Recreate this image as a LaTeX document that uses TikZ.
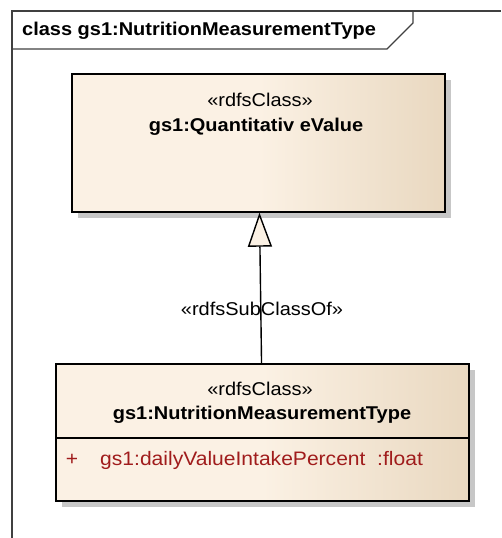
\documentclass[tikz,border=0pt]{standalone}
\usepackage{fontspec}
\setmainfont{Liberation Sans}[FakeStretch=1.08]
\usetikzlibrary{arrows.meta,shadows}
\definecolor{kem}{RGB}{251,241,228}
\definecolor{nau}{RGB}{233,216,192}
\definecolor{dothuoc}{RGB}{160,28,28}
\pgfdeclarehorizontalshading{lop}{100bp}{color(0bp)=(kem); color(50bp)=(kem); color(75bp)=(nau); color(100bp)=(nau)}

\begin{document}
\begin{tikzpicture}
  [x=1pt,y=-1pt,
   cls/.style={draw,line width=1.4pt,shading=lop,
     drop shadow={shadow xshift=6pt,shadow yshift=-6pt,fill=black!22,opacity=1}},
   txt/.style={inner sep=0pt,font=\fontsize{18.5}{22}\selectfont},
   ten/.style={inner sep=0pt,font=\fontsize{18.5}{22}\selectfont\bfseries},
   khung/.style={line width=1.2pt,black!75}]
  \useasboundingbox (0,0) rectangle (501,538);
  % khung ngoài
  \draw[khung] (12,538) -- (12,11) -- (501,11);
  \draw[khung] (12,49) -- (387,49) -- (413,23) -- (413,11);
  \node[ten,anchor=west] (tieude) at (22,31) {class gs1:NutritionMeasurementType};
  % hai lớp
  \node[cls,minimum width=373pt,minimum height=138pt] (QV) at (258.5,143) {};
  \node[cls,minimum width=413pt,minimum height=137pt] (NMT) at (262.5,432.5) {};
  \draw[line width=1.4pt] (NMT.west |- 0,438) -- (NMT.east |- 0,438);
  \foreach \p/\y/\t in {QVst/100/{«rdfsClass»},NMTst/389/{«rdfsClass»}}
  \node[txt] (\p) at (260,\y) {\t};
  \node[ten] (QVten) at (256,127) {gs1:Quantitativ eValue};
  \node[ten] (NMTten) at (262,415) {gs1:NutritionMeasurementType};
  \node[txt,text=dothuoc,font=\fontsize{19.5}{22}\selectfont] (cong) at (72,460) {+};
  \node[txt,text=dothuoc,anchor=west,font=\fontsize{19.5}{22}\selectfont] (thuoctinh) at (100,460)
  {gs1:dailyValueIntakePercent\ \ :float};
  % kế thừa
  \draw[line width=1.4pt,-{Triangle[length=34pt,width=24pt,fill=kem]}]
  (NMT) -- (QV);
  \node[txt] (nhan) at (262,309) {«rdfsSubClassOf»};
\end{tikzpicture}
\end{document}
